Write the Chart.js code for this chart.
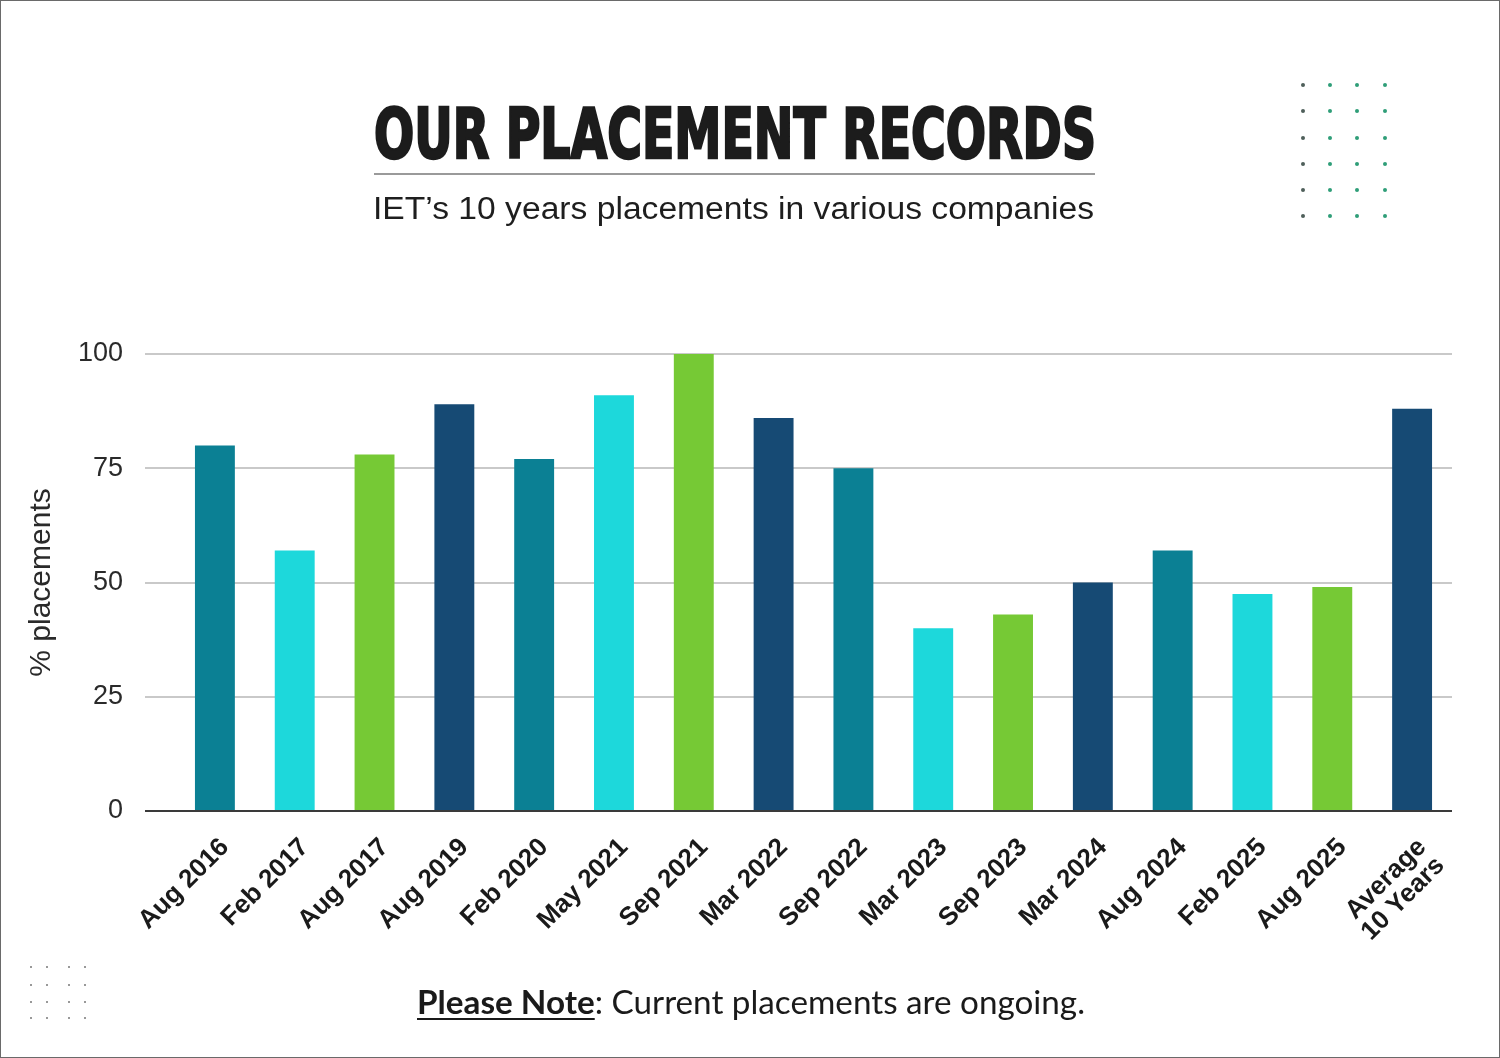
<!DOCTYPE html>
<html>
<head>
<meta charset="utf-8">
<script src="https://cdn.jsdelivr.net/npm/chart.js@4.4.1/dist/chart.umd.min.js"></script>
<style>
  html, body { margin: 0; padding: 0; background: #fff; }
  #wrap { position: relative; width: 1500px; height: 1058px; overflow: hidden; background: #fff; }
  #frame { position: absolute; left: 0; top: 0; width: 1500px; height: 1058px; box-sizing: border-box; border: 1px solid #6a6a6a; pointer-events: none; z-index: 5; }
  canvas { position: absolute; left: 0; top: 0; }
  .fit { position: absolute; white-space: nowrap; transform-origin: 0 0; z-index: 3; }
  #title { font-family: "Liberation Sans Narrow", "DejaVu Sans Condensed", "Liberation Sans", sans-serif; font-weight: 700; font-size: 70px; line-height: 1; color: #1c1c1c; -webkit-text-stroke: 2.5px #1c1c1c; letter-spacing: 0px; }
  #rule { position: absolute; left: 374px; top: 173px; width: 721px; height: 2px; background: #9a9a9a; z-index: 3; }
  #subtitle { font-family: "Liberation Sans", Arial, sans-serif; font-size: 31px; line-height: 1; color: #1e1e1e; }
  #note { font-family: Lato, "Open Sans", sans-serif; font-size: 32px; line-height: 1; color: #1a1a1a; }
  #note b { text-decoration: underline; text-decoration-thickness: 2px; text-underline-offset: 4px; }
  .dot { position: absolute; border-radius: 50%; z-index: 2; }
</style>
</head>
<body>
<div id="wrap">
  <canvas id="chart" width="1500" height="1058"></canvas>
  <div id="title" class="fit" data-left="374" data-top="99" data-width="722">OUR PLACEMENT RECORDS</div>
  <div id="rule"></div>
  <div id="subtitle" class="fit" data-left="373" data-top="193" data-width="721">IET’s 10 years placements in various companies</div>
  <div id="note" class="fit" data-left="417" data-top="986" data-width="668"><b>Please Note</b>: Current placements are ongoing.</div>
  <div id="frame"></div>
</div>
<script>
// ---- data ----
const categories = ['Aug 2016', 'Feb 2017', 'Aug 2017', 'Aug 2019', 'Feb 2020', 'May 2021', 'Sep 2021', 'Mar 2022', 'Sep 2022', 'Mar 2023', 'Sep 2023', 'Mar 2024', 'Aug 2024', 'Feb 2025', 'Aug 2025', ['Average', '10 Years']];
const placements = [80, 57, 78, 89, 77, 91, 100, 86, 75, 40, 43, 50, 57, 47.5, 49, 88];
const yTicks = [0, 25, 50, 75, 100];
const yAxisTitle = '% placements';

// ---- styles ----
const palette = ['#0B8094', '#1DD8DB', '#76C935', '#164A74'];
const barColors = placements.map((v, i) => palette[i % palette.length]);

// fit text blocks to widths
document.querySelectorAll('.fit').forEach(el => {
  el.style.left = el.dataset.left + 'px';
  el.style.top = el.dataset.top + 'px';
  const w = el.getBoundingClientRect().width;
  const s = parseFloat(el.dataset.width) / w;
  el.style.transform = 'scaleX(' + s + ')';
});

// decorative dots
function dots(xs, ys, colorFn, r) {
  const wrap = document.getElementById('wrap');
  ys.forEach((y, ri) => xs.forEach((x, ci) => {
    const d = document.createElement('div');
    d.className = 'dot';
    d.style.left = (x - r) + 'px'; d.style.top = (y - r) + 'px';
    d.style.width = (2 * r) + 'px'; d.style.height = (2 * r) + 'px';
    d.style.background = colorFn(ci, ri);
    wrap.appendChild(d);
  }));
}
dots([1303, 1330, 1357, 1385], [85, 111, 138, 164, 190, 216], (c) => c === 0 ? '#4f5f5a' : '#2f9e78', 2.3);
dots([31, 47, 69, 85], [967, 985, 1002, 1018], () => '#777', 1.2);

const ctx = document.getElementById('chart').getContext('2d');
new Chart(ctx, {
  type: 'bar',
  data: {
    labels: categories,
    datasets: [{
      data: placements,
      backgroundColor: barColors,
      borderWidth: 0,
      barPercentage: 0.5,
      categoryPercentage: 1.0
    }]
  },
  options: {
    responsive: false,
    animation: false,
    devicePixelRatio: 1,
    layout: { padding: { top: 354, right: 48, bottom: 117, left: 0 } },
    plugins: { legend: { display: false }, tooltip: { enabled: false }, title: { display: false } },
    scales: {
      x: {
        afterFit: (s) => { s.height = 130; },
        grid: { display: false, drawTicks: false },
        border: { display: false },
        ticks: {
          autoSkip: false,
          maxRotation: 45, minRotation: 45,
          padding: 23,
          labelOffset: 10,
          color: '#1a1a1a',
          font: { family: '"Liberation Sans", Arial, sans-serif', size: 26, weight: 'bold', lineHeight: 1.0 }
        }
      },
      y: {
        min: 0, max: 100,
        afterFit: (s) => { s.width = 175; },
        afterBuildTicks: (s) => { s.ticks = yTicks.map(v => ({ value: v })); },
        grid: {
          color: (c) => c.tick && c.tick.value === 0 ? '#3a3a3a' : '#c9c9c9',
          lineWidth: 2,
          drawTicks: true,
          tickLength: 30,
          tickColor: (c) => c.tick && c.tick.value === 0 ? '#3a3a3a' : '#c9c9c9'
        },
        border: { display: false },
        ticks: {
          padding: 22,
          color: '#2a2a2a',
          font: { family: '"Liberation Sans", Arial, sans-serif', size: 27 }
        },
        title: {
          display: true,
          text: yAxisTitle,
          color: '#2a2a2a',
          padding: { top: 24, bottom: 0 },
          font: { family: '"Liberation Sans", Arial, sans-serif', size: 30 }
        }
      }
    }
  }
});
</script>
</body>
</html>
